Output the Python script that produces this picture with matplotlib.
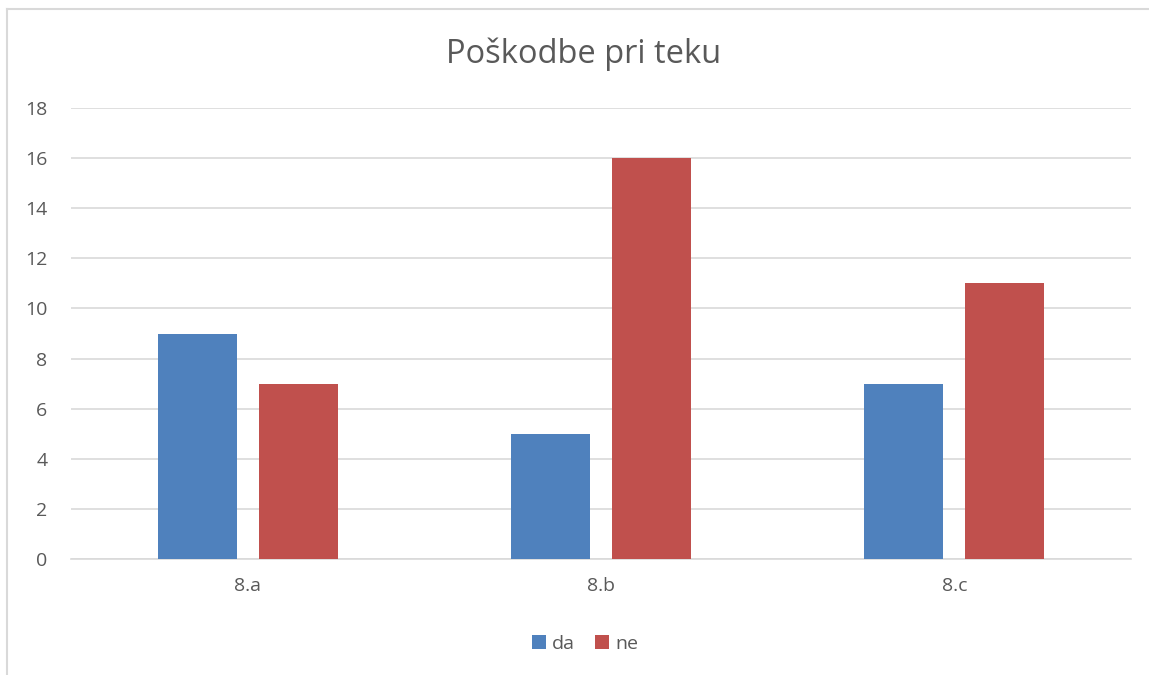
import numpy as np
import matplotlib
matplotlib.use("Agg")
import matplotlib.pyplot as plt
from matplotlib.lines import Line2D

categories = ["8.a", "8.b", "8.c"]
da = [9, 5, 7]
ne = [7, 16, 11]
yticks = [0, 2, 4, 6, 8, 10, 12, 14, 16, 18]

plt.rcParams['font.family'] = ['Open Sans', 'DejaVu Sans']
txt = '#595959'

fig = plt.figure(figsize=(11.49, 6.75), dpi=100)
ax = fig.add_axes([71/1149, 1 - 559/675, 1060/1149, 451/675])

x = np.arange(len(categories))
w = 0.224
ax.bar(x - 0.143, da, w, color='#4F81BD', label='da', zorder=3)
ax.bar(x + 0.143, ne, w, color='#C0504D', label='ne', zorder=3)

ax.set_xlim(-0.5, 2.5)
ax.set_ylim(0, 18)
ax.set_yticks(yticks)
ax.set_xticks(x)
ax.set_xticklabels(categories)
ax.tick_params(axis='both', length=0, labelsize=14, colors=txt)
ax.tick_params(axis='y', pad=17)
ax.tick_params(axis='x', pad=13)
ax.grid(axis='y', color='#D9D9D9', linewidth=1.2, zorder=0)
for s in ['top', 'right', 'left']:
    ax.spines[s].set_visible(False)
ax.spines['bottom'].set_color('#D9D9D9')
ax.spines['bottom'].set_linewidth(1.2)

fig.text(0.508, 1 - 54/675, 'Poškodbe pri teku', ha='center', va='center',
         fontsize=23.5, color=txt)

ax.legend(loc='center', bbox_to_anchor=(514/1060, (559 - 644) / 451),
          ncol=2, frameon=False, fontsize=14, handlelength=0.75,
          handleheight=0.75, handletextpad=0.3, columnspacing=1.0,
          labelcolor=txt)

fig.add_artist(Line2D([7/1149, 7/1149], [0, 1 - 9/675], color='#D9D9D9', lw=1.5))
fig.add_artist(Line2D([7/1149, 1], [1 - 9/675, 1 - 9/675], color='#D9D9D9', lw=1.5))

fig.savefig('out.png', dpi=100, facecolor='white')
